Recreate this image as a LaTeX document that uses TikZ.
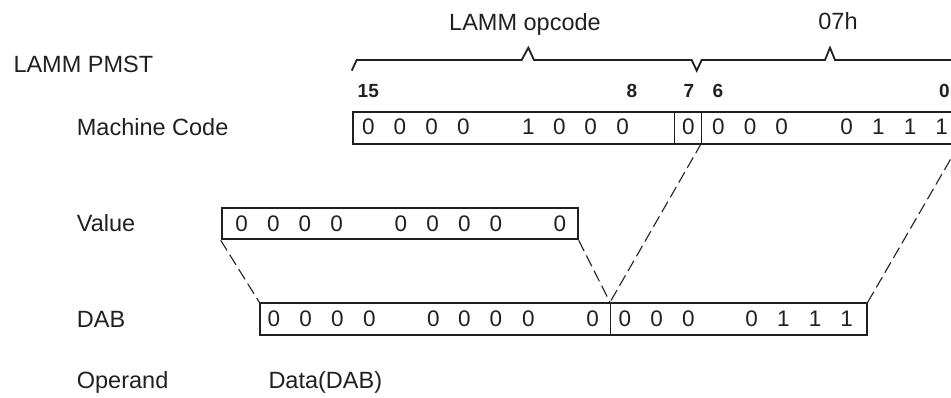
\documentclass[tikz,border=0pt]{standalone}
\usepackage{fontspec}
\setmainfont{Liberation Sans}
\definecolor{inkc}{RGB}{35,31,32}
\tikzset{
  lbl/.style={inner sep=0pt, anchor=base west, font=\fontsize{23.5}{28}\selectfont, text=inkc},
  ctxt/.style={inner sep=0pt, anchor=base, font=\fontsize{23.5}{28}\selectfont, text=inkc},
  bitc/.style={inner sep=0pt, anchor=base, font=\fontsize{22.5}{27}\selectfont, text=inkc},
  bitno/.style={inner sep=0pt, anchor=base, font=\fontsize{19}{23}\selectfont\bfseries, text=inkc},
  regbox/.style={draw=inkc, line width=2pt, inner sep=0pt, anchor=north west},
  divline/.style={draw=inkc, line width=1pt},
  mapline/.style={draw=inkc, line width=1.1pt, dash pattern=on 12pt off 5pt},
  bracel/.style={draw=inkc, line width=1.8pt, line join=miter},
}
\begin{document}
\begin{tikzpicture}[x=1pt,y=-1pt]
\useasboundingbox (0,0) rectangle (951,398);

% titles
\node[ctxt] (tOp) at (525,30.7) {LAMM opcode};
\node[ctxt] (tImm) at (838,29.5) {07h};

% braces
\draw[bracel] (351.7,70.7) -- (356.7,60) -- (521.7,60) -- (528.3,47.7) -- (534,60)
  -- (691.7,60) -- (696.7,70.7) -- (701.7,60) -- (825,60) -- (830,47.7) -- (835,60) -- (965,60);

% row labels
\node[lbl] (lPmst) at (13.3,72.7) {LAMM PMST};
\node[lbl] (lMc) at (76.7,135.3) {Machine Code};
\node[lbl] (lVal) at (76.7,231.7) {Value};
\node[lbl] (lDab) at (76.7,327) {DAB};
\node[lbl] (lOpd) at (76.7,388.3) {Operand};
\node[lbl] (lData) at (268.3,388.3) {Data(DAB)};

% bit numbers
\node[bitno] (n15) at (368.3,97.5) {15};
\node[bitno] (n8) at (632,97.5) {8};
\node[bitno] (n7) at (689,97.5) {7};
\node[bitno] (n6) at (718,97.5) {6};
\node[bitno] (n0) at (944.5,97.5) {0};

% boxes
\node[regbox, minimum width=605.3pt, minimum height=31.7pt] (mc) at (351.7,111) {};
\node[regbox, minimum width=356pt, minimum height=31.6pt] (val) at (220.7,206.7) {};
\node[regbox, minimum width=606.4pt, minimum height=31.7pt] (dab) at (259.3,302.3) {};

% dividers
\coordinate (mcdAt) at (674.3,111);
\coordinate (mcdAb) at (674.3,142.7);
\coordinate (mcdBt) at (701.7,111);
\coordinate (mcdBb) at (701.7,142.7);
\coordinate (dabdt) at (610,302.3);
\coordinate (dabdb) at (610,334);
\draw[divline] (mcdAt) -- (mcdAb);
\draw[divline] (mcdBt) -- (mcdBb);
\draw[divline] (dabdt) -- (dabdb);

% bits: machine code
\foreach \x/\b [count=\i] in {368.3/0,400/0,431.7/0,463.3/0,528.3/1,559.3/0,590.7/0,622.7/0,688.3/0,718.3/0,750/0,781.7/0,846.7/0,878.3/1,910/1,941.7/1}
  \node[bitc] (mcb\i) at (\x,135) {\b};
% bits: value
\foreach \x [count=\i] in {241.7,273.3,305,336.7,401,432.7,464.3,496,560}
  \node[bitc] (vb\i) at (\x,231.7) {0};
% bits: DAB
\foreach \x/\b [count=\i] in {274/0,305.7/0,337.3/0,369.3/0,433.3/0,464.3/0,496/0,528.3/0,592.7/0,625/0,656.7/0,688.3/0,751.7/0,783.3/1,815/1,846.7/1}
  \node[bitc] (db\i) at (\x,326.7) {\b};

% mapping lines
\draw[mapline] (val.south west) -- (dab.north west);
\draw[mapline] (val.south east) -- (dabdt);
\draw[mapline] (mcdBb) -- (dabdt);
\draw[mapline] (mc.south east) -- (dab.north east);
\end{tikzpicture}
\end{document}
